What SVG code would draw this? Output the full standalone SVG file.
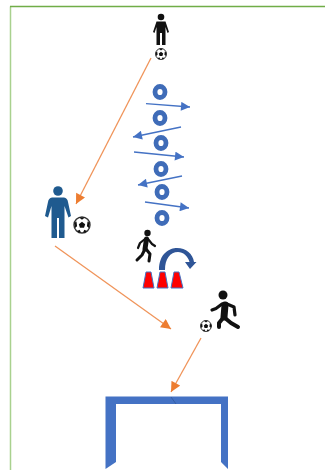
<svg xmlns="http://www.w3.org/2000/svg" width="325" height="470" viewBox="0 0 325 470">
<style>
.ring{fill:none;stroke:#3f6cb8;stroke-width:4.800}
.blue{fill:none;stroke:#4472c4;stroke-width:1.300}
.org{fill:none;stroke:#f0945a;stroke-width:1.300}
.cone{fill:#f00;stroke:#4472c4;stroke-width:1}
.ballc{fill:#fff;stroke:#333;stroke-width:1}
.ballp{fill:#111}
</style>
<defs>
<marker id="ab" viewBox="0 0 10 10" refX="10" refY="5" markerUnits="userSpaceOnUse" markerWidth="11" markerHeight="9" orient="auto"><path d="M0 0L10 5L0 10Z" fill="#4472c4"/></marker>
<marker id="ao" viewBox="0 0 10 10" refX="10" refY="5" markerUnits="userSpaceOnUse" markerWidth="11" markerHeight="10" orient="auto"><path d="M0 0L10 5L0 10Z" fill="#ed7d31"/></marker>
<g id="ball"><circle class="ballc" r="5.500"/><path class="ballp" d="M0-2.200L2.200-.6L1.400 1.900L-1.400 1.900L-2.200-.6Z"/><path class="ballp" d="M-2-5.200L2-5.200L0-3.600ZM-5.200-1.500L-3.800-2.400L-3.400 .8L-4.800 2ZM5.200-1.500L3.800-2.400L3.400 .8L4.800 2ZM-3.400 4.200L-1.600 3.200L-.8 5L-2.200 5.200ZM3.400 4.200L1.600 3.200L.8 5L2.200 5.200Z"/></g>
</defs>
<g id="border" fill="none"><path d="M10.500 470V6.500" stroke="#a9d18e" stroke-width="1.500"/><path d="M10 6.500H325" stroke="#70ad47" stroke-width="1.300"/></g>
<g id="connectors">
<path class="org" d="M151 58L76 204" marker-end="url(#ao)"/>
<path class="org" d="M55 246L171 329" marker-end="url(#ao)"/>
<path class="org" d="M201 338L171 392" marker-end="url(#ao)"/>
<path class="blue" d="M146 103.700L190 107" marker-end="url(#ab)"/>
<path class="blue" d="M181 127L133 137" marker-end="url(#ab)"/>
<path class="blue" d="M134 152L184 157" marker-end="url(#ab)"/>
<path class="blue" d="M182 176L138 185" marker-end="url(#ab)"/>
<path class="blue" d="M145 202L189 208" marker-end="url(#ab)"/>
</g>
<g id="player-top" fill="#111"><circle cx="161" cy="17" r="3.300"/><path d="M156.500 21.500H165.500L169 32L167.500 33L165.500 27V45H162V33H160V45H156.500V27L154.500 33L153 32Z"/><use href="#ball" x="161" y="54"/></g>
<g id="rings">
<ellipse class="ring" cx="160" cy="92" rx="5" ry="5.500"/>
<ellipse class="ring" cx="160" cy="118" rx="5" ry="5.500"/>
<ellipse class="ring" cx="161" cy="143" rx="5" ry="5.500"/>
<ellipse class="ring" cx="161" cy="169" rx="5" ry="5.500"/>
<ellipse class="ring" cx="162" cy="192" rx="5" ry="5.500"/>
<ellipse class="ring" cx="162" cy="218" rx="5" ry="5.500"/>
</g>
<g id="player-left"><circle cx="58" cy="191" r="4.800" fill="#1f5a8f"/><path fill="#1f5a8f" d="M52 197.500H64Q67.500 198 68 202L71 216L68.500 217.500L64.500 206V238H59V218H57V238H51.500V206L48 217.500L45 216L48 202Q48.500 198 52 197.500Z"/><use href="#ball" transform="translate(82 225) scale(1.450)"/></g>
<g id="runner-small" fill="none" stroke="#111" stroke-linecap="round" stroke-linejoin="round"><circle cx="147.500" cy="233" r="3.200" fill="#111" stroke="none"/><path stroke-width="5" d="M146.500 239L145 249"/><path stroke-width="2.200" d="M145 239L140 243L138 248M148 239L152 244L155 246"/><path stroke-width="3" d="M145 249L142 255L137 260M146 249L150 254L149 261"/></g>
<g id="cones">
<path class="cone" d="M146 272H151L154 288H143Z"/>
<path class="cone" d="M160 272H165L168 288H157Z"/>
<path class="cone" d="M174 272H179L183 288H171Z"/>
</g>
<g id="curved-arrow"><path fill="#2f5597" d="M159 270C159 253 170 248 177 248C186 248 193 254 194 262L196.500 262L190 269L185 262L189.500 262C188 256 183 252 178 252C170 252 165 259 165 270Z"/></g>
<g id="runner-big" fill="none" stroke="#111" stroke-linecap="round" stroke-linejoin="round"><circle cx="223" cy="295" r="4.500" fill="#111" stroke="none"/><path stroke-width="7" d="M225 305L224 317"/><path stroke-width="3.200" d="M222 304L216 308.500L212 310M227 304L234 307L235 315"/><path stroke-width="4" d="M223 318L219 323V327M225 318L231 323L238 327"/><use href="#ball" x="206" y="326" stroke="none"/></g>
<g id="goal"><path fill="#4472c4" d="M105.500 396.500H228V469L221 462V404H116V462L105.500 469Z"/><path fill="none" stroke="#2f5597" stroke-width=".7" d="M171 397L176 404"/></g>
</svg>
